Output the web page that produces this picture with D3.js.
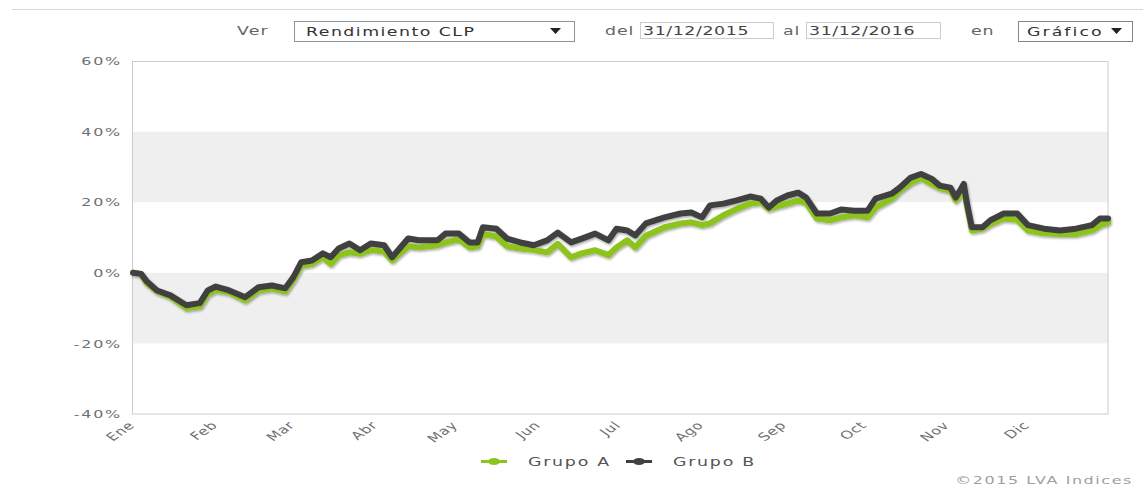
<!DOCTYPE html>
<html>
<head>
<meta charset="utf-8">
<script src="https://cdn.jsdelivr.net/npm/d3@7"></script>
<style>
  body { margin: 0; background: #fff; }
  svg { display: block; font-family: "DejaVu Sans", Verdana, sans-serif; }
</style>
</head>
<body>
<svg id="chart"></svg>
<script>
const fechas = [
  "2016-01-01","2016-01-04","2016-01-06","2016-01-10","2016-01-15","2016-01-21","2016-01-26","2016-01-29",
  "2016-02-01","2016-02-06","2016-02-12","2016-02-17","2016-02-22","2016-02-27",
  "2016-03-01","2016-03-04","2016-03-08","2016-03-12","2016-03-15","2016-03-18","2016-03-22","2016-03-26","2016-03-30",
  "2016-04-04","2016-04-07","2016-04-13","2016-04-17","2016-04-24","2016-04-27",
  "2016-05-02","2016-05-06","2016-05-09","2016-05-11","2016-05-16","2016-05-20","2016-05-25","2016-05-30",
  "2016-06-04","2016-06-08","2016-06-13","2016-06-17","2016-06-22","2016-06-27","2016-06-30",
  "2016-07-04","2016-07-07","2016-07-11","2016-07-18","2016-07-24","2016-07-28",
  "2016-08-01","2016-08-04","2016-08-09","2016-08-14","2016-08-19","2016-08-23","2016-08-26","2016-08-29",
  "2016-09-02","2016-09-06","2016-09-09","2016-09-13","2016-09-18","2016-09-22","2016-09-27",
  "2016-10-02","2016-10-05","2016-10-11","2016-10-14","2016-10-18","2016-10-22","2016-10-26","2016-10-29",
  "2016-11-02","2016-11-04","2016-11-06","2016-11-07","2016-11-08","2016-11-10","2016-11-14","2016-11-17","2016-11-22","2016-11-27",
  "2016-12-01","2016-12-07","2016-12-13","2016-12-19","2016-12-25","2016-12-28","2016-12-31"
]

const grupoA = [
  0, -0.3, -2.8, -5.3, -6.8, -10, -9.5, -6,
  -4.8, -5.5, -7.8, -5, -4.4, -5.3,
  -2, 2, 2.5, 4.4, 2.5, 5, 5.8, 5.4, 6.5,
  6, 3.5, 7.5, 7.2, 7.8, 8.6,
  9.5, 7.2, 7.5, 11, 10.3, 7.5, 6.9, 6.5,
  5.8, 8.2, 4.4, 5.5, 6.4, 5, 7.2,
  9.2, 7.2, 10.5, 12.9, 14, 14.3,
  13.5, 14, 16.3, 18.1, 19.6, 20, 18.1, 18.8,
  19.6, 20.5, 19.8, 15.4, 14.9, 15.7, 16.3,
  15.7, 18.5, 21, 23.3, 25.5, 26.9, 25.2, 24,
  23.3, 20.5, 22.5, 23.8, 19.6, 12, 12.5, 13.8, 15.4, 15,
  12, 11.2, 11, 11, 12, 13.5, 14.3
]

const grupoB = [
  0, -0.3, -2.3, -5, -6.4, -9.2, -8.6, -5,
  -3.9, -5, -6.9, -4.1, -3.6, -4.4,
  -1.3, 3, 3.5, 5.5, 4.4, 6.9, 8.3, 6.4, 8.3,
  7.8, 4.4, 9.7, 9.2, 9.2, 11.1,
  11.1, 8.6, 8.6, 12.9, 12.5, 9.7, 8.6, 7.8,
  9.2, 11.4, 8.6, 9.7, 11.1, 9.2, 12.5,
  12, 10.6, 14, 15.7, 16.8, 17.1,
  15.7, 19.1, 19.6, 20.5, 21.6, 21, 18.5, 20.5,
  21.9, 22.7, 21.3, 16.8, 16.8, 17.9, 17.6,
  17.6, 21, 22.4, 24.1, 26.9, 28, 26.6, 24.7,
  24.1, 21.3, 23.8, 25.2, 20.5, 12.9, 12.9, 14.9, 16.8, 16.8,
  13.5, 12.5, 12, 12.5, 13.5, 15.4, 15.4
]

const series = ["Grupo A", "Grupo B"]
const meses = ["Ene", "Feb", "Mar", "Abr", "May", "Jun", "Jul", "Ago", "Sep", "Oct", "Nov", "Dic"]
const yTicks = [-40, -20, 0, 20, 40, 60]
const bandas = [[20, 40], [-20, 0]]

const width = 1143
const height = 491
const SX = 1.45   // the reference is stretched horizontally

const svg = d3.select('#chart')
  .attr('width', width)
  .attr('height', height)

const defs = svg.append('defs')
const shadow = defs.append('filter').attr('id', 'sombra')
  .attr('x', '-5%').attr('y', '-20%').attr('width', '110%').attr('height', '140%')
shadow.append('feDropShadow')
  .attr('dx', 1).attr('dy', 1.5).attr('stdDeviation', 1.3)
  .attr('flood-color', '#000').attr('flood-opacity', 0.35)

function label(parent, x, y, txt, size, color, anchor, spacing) {
  return parent.append('text')
    .attr('transform', `translate(${x},${y}) scale(${SX},1)`)
    .attr('text-anchor', anchor || 'start')
    .attr('font-size', size)
    .attr('letter-spacing', spacing || 0)
    .attr('fill', color)
    .text(txt)
}

// top frame line
svg.append('line')
  .attr('x1', 12).attr('x2', width).attr('y1', 9.5).attr('y2', 9.5)
  .attr('stroke', '#d8d8d8')

// controls row
const ctl = svg.append('g')
label(ctl, 237, 35, 'Ver', 12, '#666', 'start', 0.8)
ctl.append('rect').attr('x', 294.5).attr('y', 21.5).attr('width', 280).attr('height', 20)
  .attr('fill', '#fff').attr('stroke', '#8a9494')
label(ctl, 306, 36, 'Rendimiento CLP', 12, '#333', 'start', 1)
ctl.append('path').attr('d', 'M550,28 L561,28 L555.5,34 Z').attr('fill', '#222')
label(ctl, 605, 35, 'del', 12, '#666', 'start', 0.6)
ctl.append('rect').attr('x', 640.5).attr('y', 22.5).attr('width', 133).attr('height', 16)
  .attr('fill', '#fff').attr('stroke', '#ccc')
label(ctl, 643, 35, '31/12/2015', 12, '#444', 'start', 0.4)
label(ctl, 783, 35, 'al', 12, '#666', 'start', 0.6)
ctl.append('rect').attr('x', 806.5).attr('y', 22.5).attr('width', 134).attr('height', 16)
  .attr('fill', '#fff').attr('stroke', '#ccc')
label(ctl, 809, 35, '31/12/2016', 12, '#444', 'start', 0.4)
label(ctl, 971, 35, 'en', 12, '#666', 'start', 0.6)
ctl.append('rect').attr('x', 1018.5).attr('y', 21.5).attr('width', 114).attr('height', 20)
  .attr('fill', '#fff').attr('stroke', '#7a8a8a')
label(ctl, 1027, 36, 'Gráfico', 12, '#333', 'start', 1.4)
ctl.append('path').attr('d', 'M1111,28 L1122,28 L1116.5,34 Z').attr('fill', '#222')

// scales
const parse = d3.timeParse('%Y-%m-%d')
const dates = fechas.map(parse)

const x = d3.scaleTime()
  .domain([new Date(2016, 0, 1), new Date(2016, 11, 31)])
  .range([133, 1108])

const y = d3.scaleLinear()
  .domain([-40, 60])
  .range([414, 61])

const color = d3.scaleOrdinal()
  .domain(series)
  .range(['#8cc31e', '#414141'])

// plot bands
svg.append('g')
  .selectAll('rect')
  .data(bandas)
  .enter()
  .append('rect')
  .attr('x', x.range()[0])
  .attr('width', x.range()[1] - x.range()[0])
  .attr('y', d => y(d[1]))
  .attr('height', d => y(d[0]) - y(d[1]))
  .attr('fill', '#efefef')

// plot border
svg.append('rect')
  .attr('x', 132.5).attr('y', 61.5)
  .attr('width', 975.5).attr('height', 352.5)
  .attr('fill', 'none').attr('stroke', '#cccccc')

// y axis
const yAxis = svg.append('g')
  .attr('transform', 'translate(133,0)')
  .call(d3.axisLeft(y).tickValues(yTicks).tickFormat(d => d + '%').tickSize(0))
yAxis.select('.domain').remove()
yAxis.selectAll('text')
  .attr('x', 0).attr('dy', '0.34em')
  .attr('transform', `translate(-11,0) scale(${SX},1)`)
  .attr('font-family', '"DejaVu Sans", Verdana, sans-serif')
  .attr('font-size', 11)
  .attr('letter-spacing', 1.2)
  .attr('fill', '#707070')

// x axis
const xAxis = svg.append('g')
  .attr('transform', 'translate(0,414)')
  .call(d3.axisBottom(x).ticks(d3.timeMonth.every(1)).tickFormat(d => meses[d.getMonth()]).tickSize(0))
xAxis.select('.domain').remove()
xAxis.selectAll('text')
  .attr('x', 0).attr('y', 0).attr('dy', 0)
  .attr('text-anchor', 'end')
  .attr('transform', `translate(2,12) scale(${SX},1) rotate(-45)`)
  .attr('font-family', '"DejaVu Sans", Verdana, sans-serif')
  .attr('font-size', 11)
  .attr('letter-spacing', 0.5)
  .attr('fill', '#707070')

// lines
const line = d3.line()
  .x((d, i) => x(dates[i]))
  .y(d => y(d))

const lines = svg.append('g').attr('filter', 'url(#sombra)')
lines.selectAll('path')
  .data([grupoA, grupoB])
  .enter()
  .append('path')
  .attr('d', line)
  .attr('fill', 'none')
  .attr('stroke', (d, i) => color(series[i]))
  .attr('stroke-width', 6)
  .attr('stroke-linejoin', 'round')
  .attr('stroke-linecap', 'round')

// legend
const legend = svg.append('g')
const legendX = [481, 626]
series.forEach((name, i) => {
  const lx = legendX[i]
  legend.append('line')
    .attr('x1', lx).attr('x2', lx + 26).attr('y1', 461.5).attr('y2', 461.5)
    .attr('stroke', color(name)).attr('stroke-width', 3)
  legend.append('ellipse')
    .attr('cx', lx + 13).attr('cy', 461.5).attr('rx', 6).attr('ry', 3.5)
    .attr('fill', color(name))
  label(legend, lx + 47, 466, name, 12, '#555', 'start', 1.2)
})

// credits
label(svg, 1133, 484, '©2015 LVA Indices', 11, '#a0a0a0', 'end', 1.1)
</script>
</body>
</html>
